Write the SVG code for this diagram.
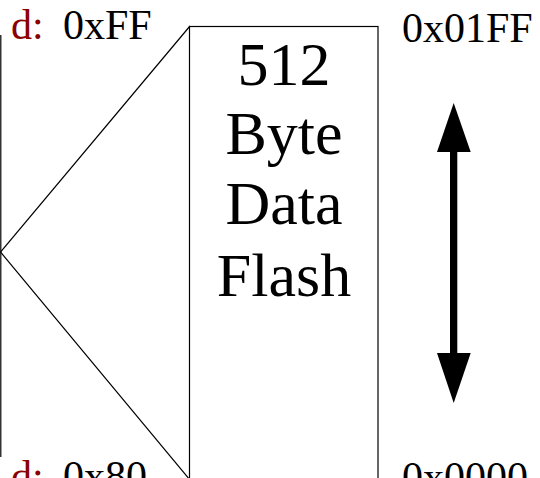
<svg xmlns="http://www.w3.org/2000/svg" width="540" height="478" viewBox="0 0 540 478">
<style>
text{font-family:"Liberation Serif","Times New Roman",serif;fill:#000}
.lbl{font-size:42px}
.red{fill:#8B0000}
.big{font-size:62px;text-anchor:middle}
.ln{stroke:#000;stroke-width:1.2;fill:none}
</style>
<rect width="540" height="478" fill="#fff"/>
<g id="connectors">
<line class="ln" x1="0.8" y1="35" x2="0.8" y2="457" stroke-width="1.6"/>
<polyline class="ln" points="190,26 0.5,252 190,480"/>
<g id="arrow">
<rect x="450" y="150" width="7.3" height="205" fill="#000"/>
<polygon points="453.7,103 437,152 470.7,152" fill="#000"/>
<polygon points="453.7,403 437,353 470.7,353" fill="#000"/>
</g>
</g>
<g id="flash">
<rect x="189.5" y="26.5" width="188.5" height="470" class="ln"/>
<text class="big" x="284" y="85">512</text>
<text class="big" x="284" y="154">Byte</text>
<text class="big" x="284" y="224">Data</text>
<text class="big" x="284" y="296">Flash</text>
</g>
<g id="top-labels">
<text class="lbl red" x="11" y="39">d:</text>
<text class="lbl" x="63" y="39">0xFF</text>
<text class="lbl" x="402" y="42">0x01FF</text>
</g>
<g id="bottom-labels">
<text class="lbl red" x="11" y="490">d:</text>
<text class="lbl" x="63" y="490">0x80</text>
<text class="lbl" x="402" y="491">0x0000</text>
</g>
</svg>
